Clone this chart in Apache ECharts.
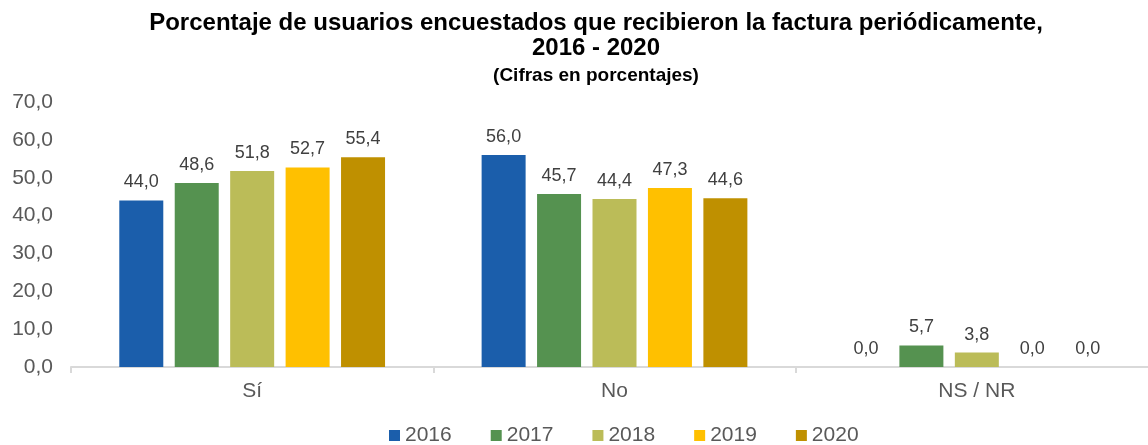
<!DOCTYPE html>
<html>
<head>
<meta charset="utf-8">
<script src="https://cdn.jsdelivr.net/npm/echarts@6/dist/echarts.min.js"></script>
<style>
html,body{margin:0;padding:0;background:#fff;overflow:hidden;}
#chart{width:1158px;height:445px;}
</style>
</head>
<body>
<div id="chart"></div>
<script>
const categories = ['Sí', 'No', 'NS / NR'];
const years = ['2016', '2017', '2018', '2019', '2020'];
const v2016 = [44.0, 56.0, 0.0];
const v2017 = [48.6, 45.7, 5.7];
const v2018 = [51.8, 44.4, 3.8];
const v2019 = [52.7, 47.3, 0.0];
const v2020 = [55.4, 44.6, 0.0];
const colors = ['#1B5EAB', '#559250', '#BBBC58', '#FFC000', '#BF9000'];
const seriesValues = [v2016, v2017, v2018, v2019, v2020];

const fmt = v => Number(v).toFixed(1).replace('.', ',');
const font = 'Liberation Sans, Arial, sans-serif';

const chart = echarts.init(document.getElementById('chart'));
chart.setOption({
  animation: false,
  title: [
    {
      text: 'Porcentaje de usuarios encuestados que recibieron la factura periódicamente,\n2016 - 2020',
      left: 591, top: 6, textAlign: 'center',
      textStyle: {fontFamily: font, fontSize: 24, fontWeight: 'bold', color: '#000', lineHeight: 25}
    },
    {
      text: '(Cifras en porcentajes)',
      left: 591, top: 61, textAlign: 'center',
      textStyle: {fontFamily: font, fontSize: 19, fontWeight: 'bold', color: '#000'}
    }
  ],
  legend: {
    data: years,
    left: 389, top: 425, padding: 0,
    itemWidth: 11, itemHeight: 11, itemGap: 39,
    icon: 'rect',
    textStyle: {fontFamily: font, fontSize: 21, color: '#595959'}
  },
  grid: {left: 71, right: 0, top: 102, bottom: 78, containLabel: false},
  xAxis: {
    type: 'category',
    data: categories,
    axisLine: {lineStyle: {color: '#D9D9D9', width: 2}},
    axisTick: {show: true, length: 6, lineStyle: {color: '#D9D9D9', width: 2}},
    axisLabel: {fontFamily: font, fontSize: 21, color: '#595959', margin: 14}
  },
  yAxis: {
    type: 'value',
    min: 0, max: 70, interval: 10,
    axisLine: {show: false},
    axisTick: {show: false},
    splitLine: {show: false},
    axisLabel: {fontFamily: font, fontSize: 21, color: '#595959', margin: 18, formatter: fmt}
  },
  series: years.map((y, i) => ({
    name: y,
    type: 'bar',
    data: seriesValues[i],
    barWidth: 44,
    barGap: '26%',
    itemStyle: {color: colors[i]},
    label: {
      show: true, position: 'top', distance: 9,
      fontFamily: font, fontSize: 18, color: '#404040',
      formatter: p => fmt(p.value)
    }
  }))
});
</script>
</body>
</html>
